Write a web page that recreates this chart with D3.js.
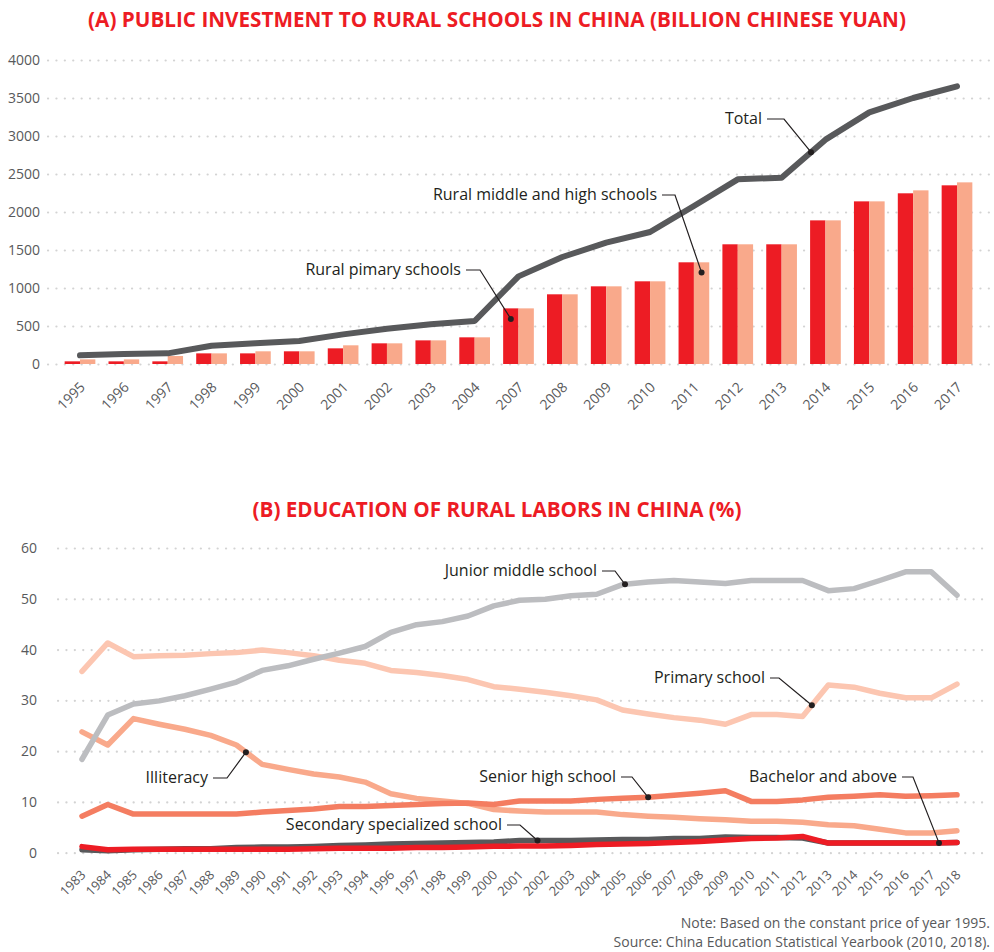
<!DOCTYPE html>
<html>
<head>
<meta charset="utf-8">
<script src="https://cdn.jsdelivr.net/npm/d3@7"></script>
<style>
    body { margin: 0; background: #fff; }
    svg { font-family: 'Open Sans', sans-serif; display: block; }
</style>
</head>
<body>
<svg id="chart" width="994" height="952"></svg>
<script>
// (A) public investment, billion yuan
const investYears = ['1995', '1996', '1997', '1998', '1999', '2000', '2001', '2002', '2003', '2004',
    '2007', '2008', '2009', '2010', '2011', '2012', '2013', '2014', '2015', '2016', '2017'];
const primaryInvest = [35, 35, 35, 140, 140, 167, 206, 272, 311, 351,
    732, 917, 1022, 1088, 1338, 1575, 1575, 1890, 2140, 2246, 2351];
const middleHighInvest = [61, 61, 105, 140, 167, 167, 246, 272, 311, 351,
    732, 917, 1022, 1088, 1338, 1575, 1575, 1890, 2140, 2285, 2390];
const totalInvest = [114, 132, 140, 241, 272, 303, 390, 465, 522, 566,
    1153, 1408, 1597, 1737, 2079, 2430, 2452, 2952, 3311, 3500, 3654];
const investTicks = [0, 500, 1000, 1500, 2000, 2500, 3000, 3500, 4000];

// (B) education of rural labors, %
const laborYears = ['1983', '1984', '1985', '1986', '1987', '1988', '1989', '1990', '1991', '1992', '1993', '1994',
    '1996', '1997', '1998', '1999', '2000', '2001', '2002', '2003', '2004', '2005', '2006', '2007', '2008',
    '2009', '2010', '2011', '2012', '2013', '2014', '2015', '2016', '2017', '2018'];
const primarySchool = [35.7, 41.3, 38.6, 38.8, 38.9, 39.2, 39.4, 39.9, 39.4, 38.8, 37.9, 37.3,
    35.9, 35.5, 34.9, 34.1, 32.7, 32.2, 31.6, 30.9, 30.1, 28.1, 27.3, 26.6, 26.1,
    25.3, 27.2, 27.2, 26.8, 33.0, 32.6, 31.4, 30.5, 30.5, 33.2];
const illiteracy = [23.8, 21.2, 26.4, 25.3, 24.3, 23.1, 21.2, 17.4, 16.4, 15.5, 14.9, 13.9,
    11.6, 10.7, 10.2, 9.7, 8.5, 8.2, 8.0, 8.0, 8.0, 7.5, 7.2, 7.0, 6.7,
    6.5, 6.2, 6.2, 6.0, 5.5, 5.3, 4.6, 3.9, 3.9, 4.3];
const juniorMiddle = [18.4, 27.1, 29.3, 29.9, 30.9, 32.2, 33.6, 35.9, 36.8, 38.1, 39.3, 40.6,
    43.4, 44.9, 45.5, 46.6, 48.6, 49.7, 49.9, 50.6, 50.9, 52.8, 53.3, 53.6, 53.3,
    53.0, 53.6, 53.6, 53.6, 51.6, 52.0, 53.6, 55.3, 55.3, 50.7];
const seniorHigh = [7.2, 9.5, 7.6, 7.6, 7.6, 7.6, 7.6, 8.0, 8.3, 8.6, 9.1, 9.1,
    9.3, 9.5, 9.7, 9.8, 9.5, 10.2, 10.2, 10.2, 10.5, 10.7, 10.9, 11.3, 11.7,
    12.2, 10.1, 10.1, 10.4, 10.9, 11.1, 11.4, 11.1, 11.2, 11.4];
const secondarySpecialized = [0.6, 0.4, 0.6, 0.7, 0.8, 0.8, 1.0, 1.1, 1.1, 1.2, 1.4, 1.5,
    1.7, 1.8, 1.9, 2.0, 2.1, 2.4, 2.4, 2.4, 2.5, 2.6, 2.6, 2.8, 2.8,
    3.1, 3.0, 3.0, 2.9, 1.9, 1.9, 1.9, 1.9, 1.9, 2.0];
const bachelorAbove = [1.2, 0.6, 0.7, 0.7, 0.7, 0.7, 0.7, 0.7, 0.7, 0.8, 0.9, 0.9,
    0.9, 1.0, 1.0, 1.1, 1.25, 1.3, 1.3, 1.4, 1.6, 1.7, 1.8, 2.0, 2.2,
    2.5, 2.8, 2.9, 3.2, 1.9, 1.9, 1.9, 1.9, 1.9, 2.0];
const laborTicks = [0, 10, 20, 30, 40, 50, 60];

const COLORS = {
    red: '#ed1c24',
    salmon: '#f9a98b',
    peach: '#fcc6b1',
    coral: '#f47d61',
    gray: '#bcbdc0',
    dark: '#58595b',
    text: '#231f20'
};

const svg = d3.select('#chart');

function drawTitle(text, y) {
    svg.append('text')
        .attr('x', 497)
        .attr('y', y)
        .attr('text-anchor', 'middle')
        .attr('font-size', 20.7)
        .attr('font-weight', 700)
        .attr('fill', COLORS.red)
        .text(text);
}

function drawYAxis(y, ticks, left, padding) {
    const g = svg.append('g')
        .attr('transform', `translate(${left},0)`)
        .call(d3.axisLeft(y)
            .tickValues(ticks)
            .tickFormat(d3.format('d'))
            .tickSize(-(990 - left))
            .tickPadding(padding));

    g.select('.domain').remove();
    g.selectAll('.tick line')
        .attr('stroke', '#d3d3d3')
        .attr('stroke-width', 2.2)
        .attr('stroke-linecap', 'round')
        .attr('stroke-dasharray', '0.1 8.3');
    g.selectAll('.tick text')
        .attr('font-family', 'Open Sans, sans-serif')
        .attr('font-size', 14)
        .attr('fill', COLORS.dark);
}

function drawXAxis(x, baseY, fontSize, shift) {
    const g = svg.append('g')
        .attr('transform', `translate(0,${baseY})`)
        .call(d3.axisBottom(x).tickSize(0));

    g.select('.domain').remove();
    g.selectAll('.tick text')
        .attr('font-family', 'Open Sans, sans-serif')
        .attr('font-size', fontSize)
        .attr('fill', COLORS.dark)
        .attr('text-anchor', 'end')
        .attr('y', 0)
        .attr('dy', 0)
        .attr('transform', `translate(${shift[0]},${shift[1]}) rotate(-45)`);
}

// label with an elbow leader line ending in a dot
function addCallout(opts) {
    const {label, endX, baseline, elbowX, dotX, dotY} = opts;
    const lineY = baseline - 5;

    svg.append('text')
        .attr('x', endX)
        .attr('y', baseline)
        .attr('text-anchor', 'end')
        .attr('font-size', 16)
        .attr('fill', COLORS.text)
        .text(label);

    svg.append('path')
        .attr('d', `M${endX + 5},${lineY}H${elbowX}L${dotX},${dotY}`)
        .attr('fill', 'none')
        .attr('stroke', COLORS.text)
        .attr('stroke-width', 1.2);

    svg.append('circle')
        .attr('cx', dotX)
        .attr('cy', dotY)
        .attr('r', 3)
        .attr('fill', COLORS.text);
}

// point between index i and i+1 of a series, t in [0,1]
function between(xPos, values, i, t) {
    const x0 = xPos(i), x1 = xPos(i + 1);
    return {
        x: x0 + (x1 - x0) * t,
        v: values[i] + (values[i + 1] - values[i]) * t
    };
}

// ---------- panel A ----------
function drawInvestment() {
    const y = d3.scaleLinear().domain([0, 4000]).range([364, 60]);
    const x = d3.scaleBand().domain(investYears).range([51.5, 985.5]).paddingInner(0.3).paddingOuter(0.3);
    const sub = d3.scaleBand().domain(['primary', 'middle']).range([0, x.bandwidth()]);
    const center = d => x(d) + x.bandwidth() / 2;

    drawTitle('(A) PUBLIC INVESTMENT TO RURAL SCHOOLS IN CHINA (BILLION CHINESE YUAN)', 27);
    drawYAxis(y, investTicks, 48, 8);
    drawXAxis(x, 364, 14, [6, 24]);

    const rows = investYears.map((year, i) => ({
        year,
        primary: primaryInvest[i],
        middle: middleHighInvest[i]
    }));

    const groups = svg.append('g')
        .selectAll('g')
        .data(rows)
        .join('g')
        .attr('transform', d => `translate(${x(d.year)},0)`);

    groups.selectAll('rect')
        .data(d => ['primary', 'middle'].map(key => ({key, value: d[key]})))
        .join('rect')
        .attr('x', d => sub(d.key))
        .attr('width', sub.bandwidth())
        .attr('y', d => y(d.value))
        .attr('height', d => y(0) - y(d.value))
        .attr('fill', d => d.key === 'primary' ? COLORS.red : COLORS.salmon);

    const line = d3.line()
        .x((d, i) => center(investYears[i]))
        .y(d => y(d));

    svg.append('path')
        .datum(totalInvest)
        .attr('d', line)
        .attr('fill', 'none')
        .attr('stroke', COLORS.dark)
        .attr('stroke-width', 6)
        .attr('stroke-linejoin', 'round')
        .attr('stroke-linecap', 'round');

    const totalPt = between(i => center(investYears[i]), totalInvest, 16, 0.67);
    addCallout({label: 'Total', endX: 762, baseline: 124, elbowX: 784, dotX: totalPt.x, dotY: y(totalPt.v)});

    const i2011 = investYears.indexOf('2011');
    addCallout({
        label: 'Rural middle and high schools', endX: 657, baseline: 200, elbowX: 675,
        dotX: x('2011') + sub('middle') + sub.bandwidth() / 2, dotY: y(middleHighInvest[i2011] * 0.9)
    });

    const i2007 = investYears.indexOf('2007');
    addCallout({
        label: 'Rural pimary schools', endX: 461, baseline: 275, elbowX: 480,
        dotX: x('2007') + sub('primary') + sub.bandwidth() / 2, dotY: y(primaryInvest[i2007] * 0.81)
    });
}

// ---------- panel B ----------
function drawLabor() {
    const y = d3.scaleLinear().domain([0, 60]).range([852.7, 548]);
    const x = d3.scalePoint().domain(laborYears).range([82, 957]);
    const xi = i => x(laborYears[i]);

    drawTitle('(B) EDUCATION OF RURAL LABORS IN CHINA (%)', 517);
    drawYAxis(y, laborTicks, 58, 21);
    drawXAxis(x, 852.7, 13, [4, 23]);

    const series = [
        {values: primarySchool, color: COLORS.peach},
        {values: illiteracy, color: COLORS.salmon},
        {values: juniorMiddle, color: COLORS.gray},
        {values: seniorHigh, color: COLORS.coral},
        {values: secondarySpecialized, color: COLORS.dark},
        {values: bachelorAbove, color: COLORS.red}
    ];

    const line = d3.line()
        .x((d, i) => xi(i))
        .y(d => y(d));

    svg.append('g')
        .selectAll('path')
        .data(series)
        .join('path')
        .attr('d', d => line(d.values))
        .attr('fill', 'none')
        .attr('stroke', d => d.color)
        .attr('stroke-width', 5.5)
        .attr('stroke-linejoin', 'round')
        .attr('stroke-linecap', 'round');

    const callouts = [
        {label: 'Junior middle school', values: juniorMiddle, i: 21, t: 0.1, endX: 597, baseline: 576, elbowX: 615},
        {label: 'Primary school', values: primarySchool, i: 28, t: 0.36, endX: 765, baseline: 683, elbowX: 779},
        {label: 'Senior high school', values: seniorHigh, i: 22, t: 0, endX: 616, baseline: 782, elbowX: 632},
        {label: 'Bachelor and above', values: bachelorAbove, i: 33, t: 0.3, endX: 897, baseline: 782, elbowX: 913},
        {label: 'Secondary specialized school', values: secondarySpecialized, i: 17, t: 0.7, endX: 502, baseline: 830, elbowX: 520},
        {label: 'Illiteracy', values: illiteracy, i: 6, t: 0.37, endX: 208, baseline: 783, elbowX: 227}
    ];

    callouts.forEach(c => {
        const pt = between(xi, c.values, c.i, c.t);
        addCallout({label: c.label, endX: c.endX, baseline: c.baseline, elbowX: c.elbowX, dotX: pt.x, dotY: y(pt.v)});
    });
}

function drawNotes() {
    const notes = ['Note: Based on the constant price of year 1995.',
        'Source: China Education Statistical Yearbook (2010, 2018).'];

    svg.append('g')
        .selectAll('text')
        .data(notes)
        .join('text')
        .attr('x', 990)
        .attr('y', (d, i) => 928 + i * 19)
        .attr('text-anchor', 'end')
        .attr('font-size', 14)
        .attr('fill', COLORS.dark)
        .text(d => d);
}

drawInvestment();
drawLabor();
drawNotes();
</script>
</body>
</html>
